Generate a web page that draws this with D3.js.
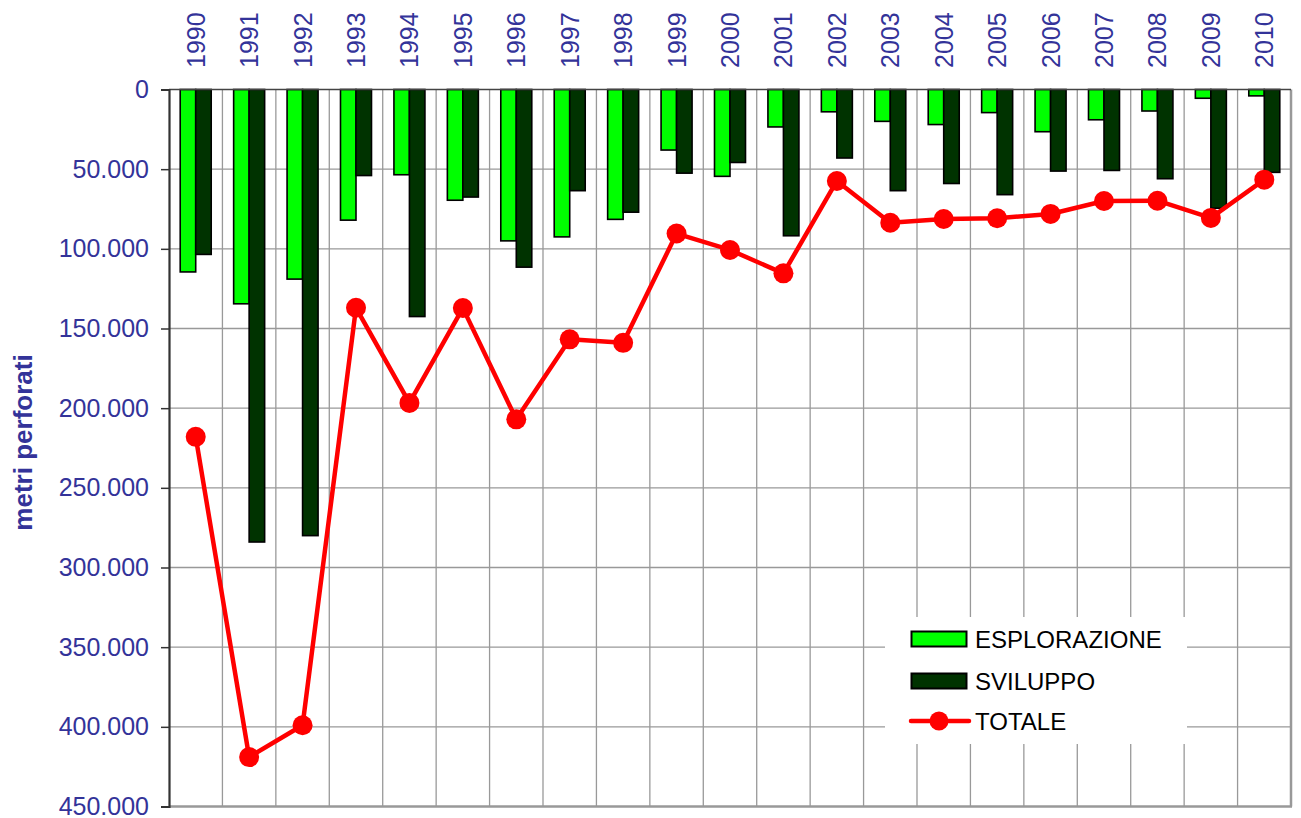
<!DOCTYPE html>
<html>
<head>
<meta charset="utf-8">
<script src="https://cdn.jsdelivr.net/npm/d3@7"></script>
<style>
  body { margin: 0; background: #fff; }
  svg { display: block; font-family: Arial, "Liberation Sans", sans-serif; }
</style>
</head>
<body>
<div id="chart"></div>
<script>
// data (metri perforati)
const years = ['1990', '1991', '1992', '1993', '1994', '1995', '1996', '1997', '1998', '1999', '2000',
  '2001', '2002', '2003', '2004', '2005', '2006', '2007', '2008', '2009', '2010'];
const esplorazione = [114500, 134500, 119000, 82000, 53500, 69500, 95000, 92500, 81500, 38000, 54500,
  23500, 14000, 20000, 22000, 14500, 26500, 19000, 13500, 5500, 4000];
const sviluppo = [103500, 284000, 280000, 54000, 142500, 67500, 111500, 63500, 77000, 52500, 45800,
  91800, 43000, 63500, 59000, 66000, 51200, 50800, 56000, 74500, 52000];
const totale = [218000, 419000, 399000, 137000, 196700, 137200, 207000, 156800, 159000, 90400, 100700,
  115400, 57400, 83600, 81300, 80800, 78100, 70000, 69800, 80600, 56600];
const yTicks = [0, 50000, 100000, 150000, 200000, 250000, 300000, 350000, 400000, 450000];
const seriesNames = ['ESPLORAZIONE', 'SVILUPPO', 'TOTALE'];

const W = 1301, H = 818;
const plotLeft = 169, plotRight = 1291, plotTop = 89.5, plotBottom = 806.5;
const textBlue = '#333399';
const green = '#00ff00', dark = '#003300', red = '#ff0000';

const svg = d3.select('#chart').append('svg')
  .attr('width', W)
  .attr('height', H);

const x = d3.scaleBand()
  .domain(years)
  .range([plotLeft, plotRight])
  .padding(0);

const y = d3.scaleLinear()
  .domain([0, 450000])
  .range([plotTop, plotBottom]);

const locale = d3.formatLocale({ decimal: ',', thousands: '.', grouping: [3], currency: ['€', ''] });
const fmt = locale.format(',d');

// grid
const grid = svg.append('g');
grid.selectAll('.hgrid')
  .data(yTicks.filter(d => d > 0 && d < 450000))
  .join('line')
  .attr('x1', plotLeft).attr('x2', plotRight)
  .attr('y1', d => y(d)).attr('y2', d => y(d))
  .attr('stroke', '#999').attr('stroke-width', 1.3);

grid.selectAll('.vgrid')
  .data(years.slice(1))
  .join('line')
  .attr('x1', d => x(d)).attr('x2', d => x(d))
  .attr('y1', plotTop).attr('y2', plotBottom)
  .attr('stroke', '#999').attr('stroke-width', 1.3);

// right and bottom frame
svg.append('line')
  .attr('x1', plotRight).attr('x2', plotRight).attr('y1', plotTop).attr('y2', plotBottom)
  .attr('stroke', '#999').attr('stroke-width', 2.5);
svg.append('line')
  .attr('x1', plotLeft).attr('x2', plotRight + 1).attr('y1', plotBottom).attr('y2', plotBottom)
  .attr('stroke', '#999').attr('stroke-width', 2.5);

// bars
const barW = 15.5;
const bars = svg.append('g');
bars.selectAll('.esp')
  .data(years)
  .join('rect')
  .attr('x', d => x(d) + x.bandwidth() / 2 - barW)
  .attr('y', y(0))
  .attr('width', barW)
  .attr('height', (d, i) => y(esplorazione[i]) - y(0))
  .attr('fill', green)
  .attr('stroke', '#000')
  .attr('stroke-width', 1.6);

bars.selectAll('.svi')
  .data(years)
  .join('rect')
  .attr('x', d => x(d) + x.bandwidth() / 2)
  .attr('y', y(0))
  .attr('width', barW)
  .attr('height', (d, i) => y(sviluppo[i]) - y(0))
  .attr('fill', dark)
  .attr('stroke', '#000')
  .attr('stroke-width', 1.6);

// zero line on top
svg.append('line')
  .attr('x1', plotLeft).attr('x2', plotRight).attr('y1', plotTop).attr('y2', plotTop)
  .attr('stroke', '#444').attr('stroke-width', 1.6);

// y axis
const yAxis = d3.axisLeft(y)
  .tickValues(yTicks)
  .tickSize(8)
  .tickPadding(12)
  .tickFormat(d => fmt(d));

const yAxisG = svg.append('g')
  .attr('transform', `translate(${plotLeft},0)`)
  .call(yAxis);
yAxisG.select('.domain').attr('stroke', '#333').attr('stroke-width', 2.2);
yAxisG.selectAll('.tick line').attr('stroke', '#333').attr('stroke-width', 1.5);
yAxisG.selectAll('.tick text')
  .attr('fill', textBlue)
  .style('font-size', '25px')
  .style('font-family', 'Arial, "Liberation Sans", sans-serif');

// year labels (rotated, above the plot)
svg.append('g').selectAll('text')
  .data(years)
  .join('text')
  .attr('transform', d => `translate(${x(d) + x.bandwidth() / 2 + 9},68) rotate(-90)`)
  .attr('text-anchor', 'start')
  .attr('fill', textBlue)
  .style('font-size', '25px')
  .text(d => d);

// axis title
svg.append('text')
  .attr('transform', `translate(32,${(353 + 532) / 2}) rotate(-90)`)
  .attr('text-anchor', 'middle')
  .attr('fill', textBlue)
  .style('font-size', '26px')
  .style('font-weight', 'bold')
  .text('metri perforati');

// totale line
const line = d3.line()
  .x((d, i) => x(years[i]) + x.bandwidth() / 2)
  .y(d => y(d));

svg.append('path')
  .datum(totale)
  .attr('d', line)
  .attr('fill', 'none')
  .attr('stroke', red)
  .attr('stroke-width', 4.5)
  .attr('stroke-linejoin', 'round');

svg.append('g').selectAll('circle')
  .data(totale)
  .join('circle')
  .attr('cx', (d, i) => x(years[i]) + x.bandwidth() / 2)
  .attr('cy', d => y(d))
  .attr('r', 10)
  .attr('fill', red);

// legend
const legend = svg.append('g');
legend.append('rect')
  .attr('x', 885).attr('y', 617)
  .attr('width', 302).attr('height', 127)
  .attr('fill', '#fff');

const rowY = [639, 681, 721];
const swatchFill = [green, dark];
seriesNames.forEach((name, i) => {
  if (i < 2) {
    legend.append('rect')
      .attr('x', 911.5).attr('y', rowY[i] - 7.5)
      .attr('width', 55).attr('height', 15)
      .attr('fill', swatchFill[i])
      .attr('stroke', '#000')
      .attr('stroke-width', 2);
  } else {
    legend.append('line')
      .attr('x1', 911).attr('x2', 969)
      .attr('y1', rowY[i]).attr('y2', rowY[i])
      .attr('stroke', red).attr('stroke-width', 4.5)
      .attr('stroke-linecap', 'round');
    legend.append('circle')
      .attr('cx', 939).attr('cy', rowY[i]).attr('r', 9.5)
      .attr('fill', red);
  }
  legend.append('text')
    .attr('x', 975).attr('y', rowY[i])
    .attr('dy', '0.36em')
    .attr('fill', '#000')
    .style('font-size', '24px')
    .text(name);
});
</script>
</body>
</html>
